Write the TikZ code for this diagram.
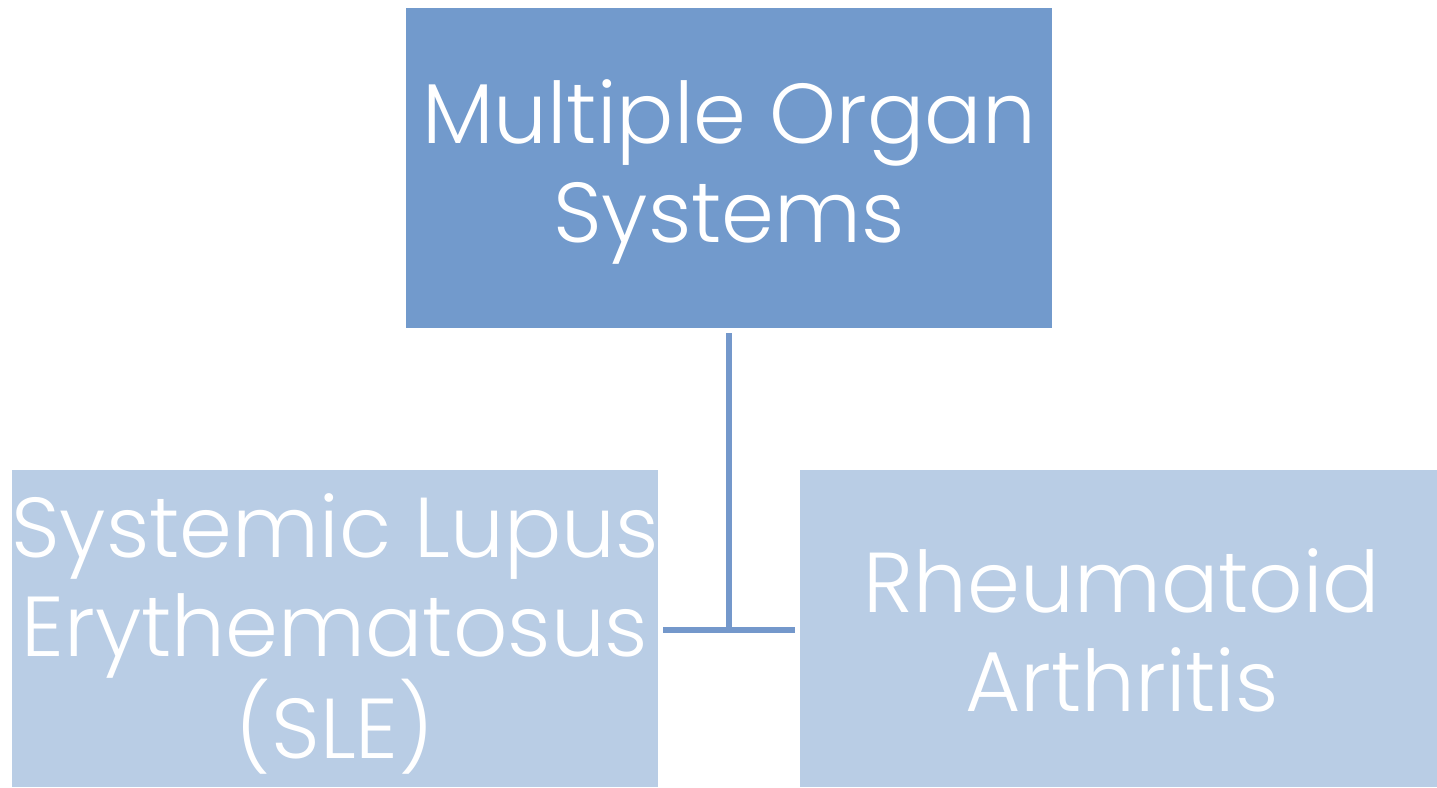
\documentclass[tikz,border=0pt]{standalone}
\usepackage{fontspec}
\setmainfont{Poppins Light}
\definecolor{topblue}{RGB}{114,154,204}
\definecolor{lightblue}{RGB}{185,205,229}
\definecolor{linkblue}{RGB}{116,152,203}
\begin{document}
\begin{tikzpicture}[x=1pt,y=-1pt,
  box/.style={draw=none,inner sep=0pt,minimum width=#1,text=white,align=center,
    font=\fontsize{85}{99}\selectfont},
  link/.style={draw=linkblue,line width=6pt}]
\useasboundingbox (0,0) rectangle (1437,787);
\fill[topblue] (406,8) rectangle (1052,328);
\fill[lightblue] (12,470) rectangle (658,787);
\fill[lightblue] (800,470) rectangle (1437,787);
\node[box=646pt] (top) at (729,172) {Multiple Organ\\Systems};
\node[box=646pt] (sle) at (335,634) {Systemic Lupus\\Erythematosus\\(SLE)};
\node[box=637pt] (ra) at (1122,630) {Rheumatoid\\Arthritis};
\coordinate (t1) at (729,333);
\coordinate (j) at (729,630);
\coordinate (l1) at (663,630);
\coordinate (r1) at (795,630);
\draw[link] (t1) -- (j);
\draw[link] (l1) -- (r1);
\end{tikzpicture}
\end{document}
